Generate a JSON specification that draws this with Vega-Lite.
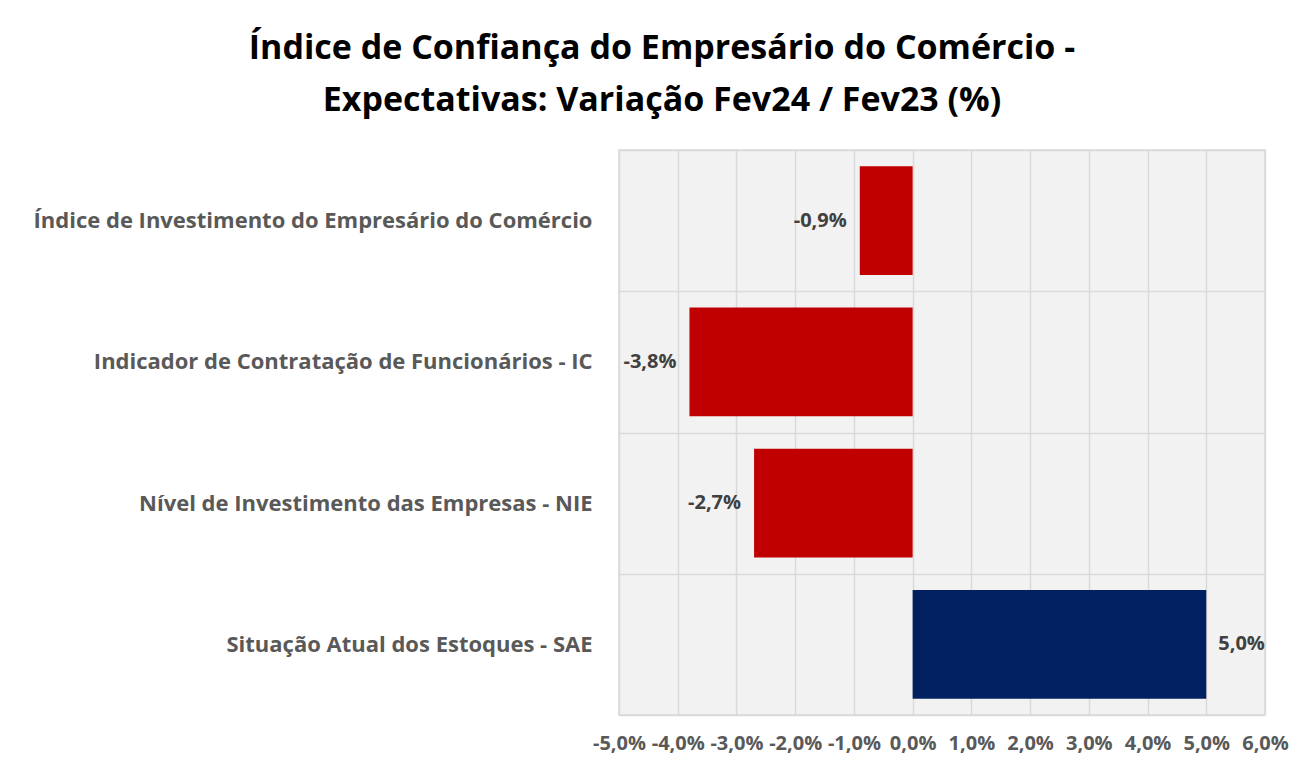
{
  "$schema": "https://vega.github.io/schema/vega-lite/v6.json",
  "width": 646,
  "height": 565,
  "autosize": {"type": "none"},
  "padding": {"left": 619, "top": 150, "right": 34, "bottom": 54},
  "background": "white",
  "title": {
    "text": ["Índice de Confiança do Empresário do Comércio -", "Expectativas: Variação Fev24 / Fev23 (%)"],
    "font": "Open Sans",
    "fontSize": 34,
    "fontWeight": "bold",
    "color": "#000000",
    "anchor": "middle",
    "frame": "group",
    "dx": -280,
    "offset": 21,
    "lineHeight": 52
  },
  "data": {
    "values": [
      {"indicador": "Índice de Investimento do Empresário do Comércio", "variacao": -0.009},
      {"indicador": "Indicador de Contratação de Funcionários - IC", "variacao": -0.038},
      {"indicador": "Nível de Investimento das Empresas - NIE", "variacao": -0.027},
      {"indicador": "Situação Atual dos Estoques - SAE", "variacao": 0.05}
    ]
  },
  "encoding": {
    "y": {
      "field": "indicador",
      "type": "nominal",
      "sort": null,
      "scale": {"paddingInner": 0, "paddingOuter": 0},
      "axis": {
        "title": null,
        "domain": false,
        "ticks": false,
        "grid": true,
        "tickBand": "extent",
        "gridColor": "#d9d9d9",
        "gridWidth": 1.5,
        "labelFont": "Open Sans",
        "labelFontSize": 22,
        "labelFontWeight": "bold",
        "labelColor": "#595959",
        "labelPadding": 27,
        "labelLimit": 800
      }
    },
    "x": {
      "field": "variacao",
      "type": "quantitative",
      "scale": {"domain": [-0.05, 0.06], "nice": false, "zero": false},
      "axis": {
        "title": null,
        "values": [-0.05, -0.04, -0.03, -0.02, -0.01, 0, 0.01, 0.02, 0.03, 0.04, 0.05, 0.06],
        "format": ".1%",
        "domain": false,
        "ticks": false,
        "grid": true,
        "gridColor": "#d9d9d9",
        "gridWidth": 1.5,
        "labelFont": "Open Sans",
        "labelFontSize": 20,
        "labelFontWeight": "bold",
        "labelColor": "#595959",
        "labelPadding": 18,
        "labelFlush": false,
        "labelOverlap": false
      }
    }
  },
  "layer": [
    {
      "mark": {"type": "bar", "height": {"band": 0.77}},
      "encoding": {
        "x2": {"datum": 0},
        "color": {
          "condition": {"test": "datum.variacao < 0", "value": "#C00000"},
          "value": "#002060"
        }
      }
    },
    {
      "transform": [{"filter": "datum.variacao < 0"}],
      "mark": {"type": "text", "align": "right", "baseline": "middle", "dx": -13, "font": "Open Sans", "fontSize": 20, "fontWeight": "bold", "color": "#404040"},
      "encoding": {"text": {"field": "variacao", "format": ".1%"}}
    },
    {
      "transform": [{"filter": "datum.variacao >= 0"}],
      "mark": {"type": "text", "align": "left", "baseline": "middle", "dx": 12, "font": "Open Sans", "fontSize": 20, "fontWeight": "bold", "color": "#404040"},
      "encoding": {"text": {"field": "variacao", "format": ".1%"}}
    }
  ],
  "config": {
    "locale": {
      "number": {"decimal": ",", "thousands": ".", "grouping": [3], "currency": ["R$", ""], "minus": "-"}
    },
    "view": {"fill": "#f2f2f2", "stroke": "#d9d9d9", "strokeWidth": 1.5}
  }
}
